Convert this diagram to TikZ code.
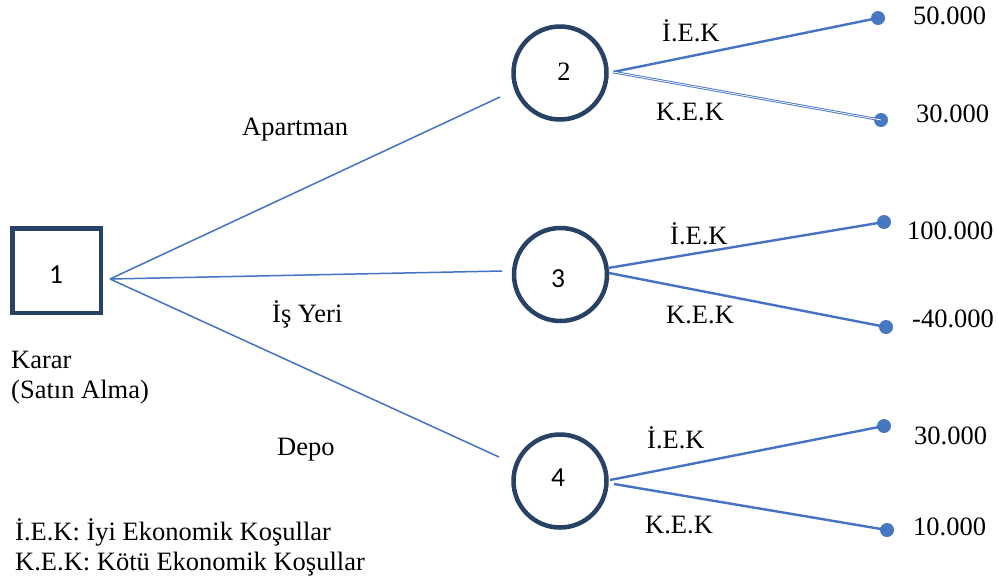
\documentclass[tikz,border=0pt]{standalone}
\usepackage{fontspec}
\setmainfont{Liberation Serif}
\newfontfamily\calib{Carlito}
\definecolor{navy}{RGB}{40,66,102}
\definecolor{lineblue}{RGB}{68,114,196}
\definecolor{dotblue}{RGB}{71,121,192}
\tikzset{
  decbox/.style={draw=navy, line width=4.5pt, minimum width=88.5pt, minimum height=84.5pt, inner sep=0pt},
  chance/.style={draw=navy, line width=4.5pt, circle, minimum size=93pt, inner sep=0pt},
  leaf/.style={circle, fill=dotblue, minimum size=14pt, inner sep=0pt},
  mainline/.style={draw=lineblue, line width=1.5pt},
  branch/.style={draw=lineblue, line width=2.4pt},
  dbranch/.style={draw=lineblue, line width=0.9pt, double=white, double distance=0.8pt},
  lbl/.style={inner sep=0pt, anchor=base west, font=\fontsize{26.5}{30}\selectfont},
  num/.style={inner sep=0pt, anchor=base, font=\fontsize{26.5}{30}\selectfont},
  snum/.style={inner sep=0pt, anchor=base, font=\calib\fontsize{27.5}{30}\selectfont}
}
\begin{document}
\begin{tikzpicture}[x=1pt, y=-1pt]
\useasboundingbox (0,0) rectangle (998,582);
\fill[white] (0,0) rectangle (998,582);

% decision node
\node[decbox] (n1) at (56.5,270.5) {};
\node[snum] (t1) at (56,283) {1};

% chance nodes
\node[chance] (n2) at (560,73) {};
\node[num] (t2) at (564,80) {2};
\node[chance] (n3) at (560.5,274.5) {};
\node[snum] (t3) at (558,287) {3};
\node[chance] (n4) at (560,481) {};
\node[snum] (t4) at (558,486) {4};

% coordinates for connector ends
\coordinate (s1) at (110,279);
\coordinate (e2) at (500,97);
\coordinate (e3) at (502,271);
\coordinate (e4) at (499,457);

\draw[mainline] (s1) -- (e2);
\draw[mainline] (s1) -- (e3);
\draw[mainline] (s1) -- (e4);

% leaves
\node[leaf] (l2a) at (878,18) {};
\node[leaf] (l2b) at (881,120) {};
\node[leaf] (l3a) at (884,222) {};
\node[leaf] (l3b) at (886,327) {};
\node[leaf] (l4a) at (884,426) {};
\node[leaf] (l4b) at (887,530) {};

\coordinate (b2) at (613,72);
\coordinate (b3a) at (608,268);
\coordinate (b3b) at (609,273);
\coordinate (b4a) at (610,480);
\coordinate (b4b) at (614,484);

\draw[branch] (b2) -- (l2a.center);
\draw[dbranch] (b2) -- (l2b.center);
\draw[branch] (b3a) -- (l3a.center);
\draw[branch] (b3b) -- (l3b.center);
\draw[branch] (b4a) -- (l4a.center);
\draw[branch] (b4b) -- (l4b.center);

% branch labels
\node[lbl] (a2) at (662,41) {İ.E.K};
\node[lbl] (k2) at (656,120) {K.E.K};
\node[lbl] (a3) at (670,244) {İ.E.K};
\node[lbl] (k3) at (666,323) {K.E.K};
\node[lbl] (a4) at (647,448) {İ.E.K};
\node[lbl] (k4) at (645,533) {K.E.K};

% payoffs
\node[lbl] (v1) at (913,24) {50.000};
\node[lbl] (v2) at (916,122) {30.000};
\node[lbl] (v3) at (907,239) {100.000};
\node[lbl] (v4) at (912,327) {-40.000};
\node[lbl] (v5) at (914,444) {30.000};
\node[lbl] (v6) at (913,535) {10.000};

% alternative labels
\node[lbl] (la) at (242,135) {Apartman};
\node[lbl] (li) at (272,322) {İş Yeri};
\node[lbl] (ld) at (277,455) {Depo};

% decision label
\node[lbl] (kr1) at (11,368) {Karar};
\node[lbl] (kr2) at (11,398) {(Satın Alma)};

% legend
\node[lbl] (g1) at (15,540) {İ.E.K: İyi Ekonomik Koşullar};
\node[lbl] (g2) at (15,570) {K.E.K: Kötü Ekonomik Koşullar};
\end{tikzpicture}
\end{document}
